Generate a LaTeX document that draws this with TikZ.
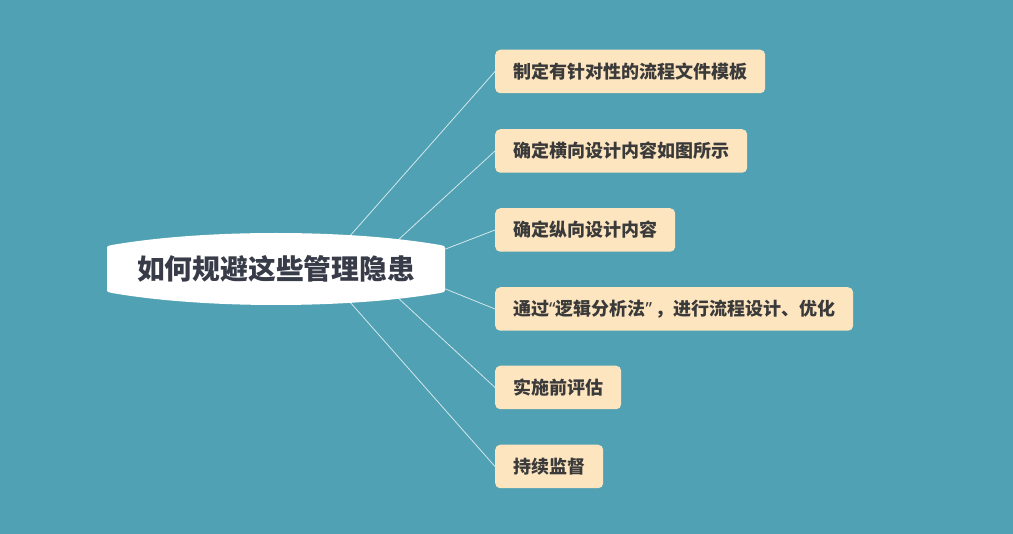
\documentclass[tikz,border=0pt]{standalone}
\usepackage{fontspec}
\newfontfamily\cjk{Noto Sans CJK SC}
\newfontfamily\comillas{Noto Sans}
\usepackage{tikz}
\usetikzlibrary{calc}
\usepackage{xcolor}
\definecolor{fondo}{HTML}{4FA1B3}
\definecolor{caja}{HTML}{FDE5C0}
\definecolor{texto}{HTML}{3A3A3A}
\definecolor{titulo}{HTML}{383C48}

\begin{document}
\begin{tikzpicture}[x=1pt,y=-1pt,
        rama/.style={fill=caja, rounded corners=5pt, anchor=west, inner xsep=18pt, inner ysep=0pt,
            minimum height=43.5pt, text=texto, font=\cjk\bfseries\fontsize{18}{18}\selectfont},
        enlace/.style={draw=white!75!fondo, line width=0.8pt}]
        % Fondo
        \fill[fondo] (0,0) rectangle (1013,534);
        \useasboundingbox (0,0) rectangle (1013,534);

        % Ramas a la derecha
        \foreach \i/\y/\t in {1/71.5/{制定有针对性的流程文件模板},
                              2/151/{确定横向设计内容如图所示},
                              3/230/{确定纵向设计内容},
                              4/309/{通过{\comillas“}逻辑分析法{\comillas”}\hspace{3pt}，进行流程设计、优化},
                              5/387.5/{实施前评估},
                              6/466.5/{持续监督}}
            \node[rama] (b\i) at (495,\y) {\t};

        % Puntos de salida en el nodo central
        \coordinate (s1) at (349,237);
        \coordinate (s2) at (397,241);
        \coordinate (s3) at (443,250);
        \coordinate (s4) at (443,288);
        \coordinate (s5) at (397,297);
        \coordinate (s6) at (349,301);

        % Enlaces
        \foreach \i in {1,...,6}
            \draw[enlace] (s\i) -- (b\i.west);

        % Nodo central
        \fill[white] (107,250) .. controls (107,246) .. (112,245)
            .. controls (204,229) and (348,229) .. (440,245)
            .. controls (445,246) .. (445,250) -- (445,288)
            .. controls (445,292) .. (440,293)
            .. controls (348,309) and (204,309) .. (112,293)
            .. controls (107,292) .. (107,288) -- cycle;
        \node[font=\cjk\bfseries\fontsize{27.8}{27.8}\selectfont, text=titulo] (centro) at (276,269) {如何规避这些管理隐患};
    \end{tikzpicture}
\end{document}
